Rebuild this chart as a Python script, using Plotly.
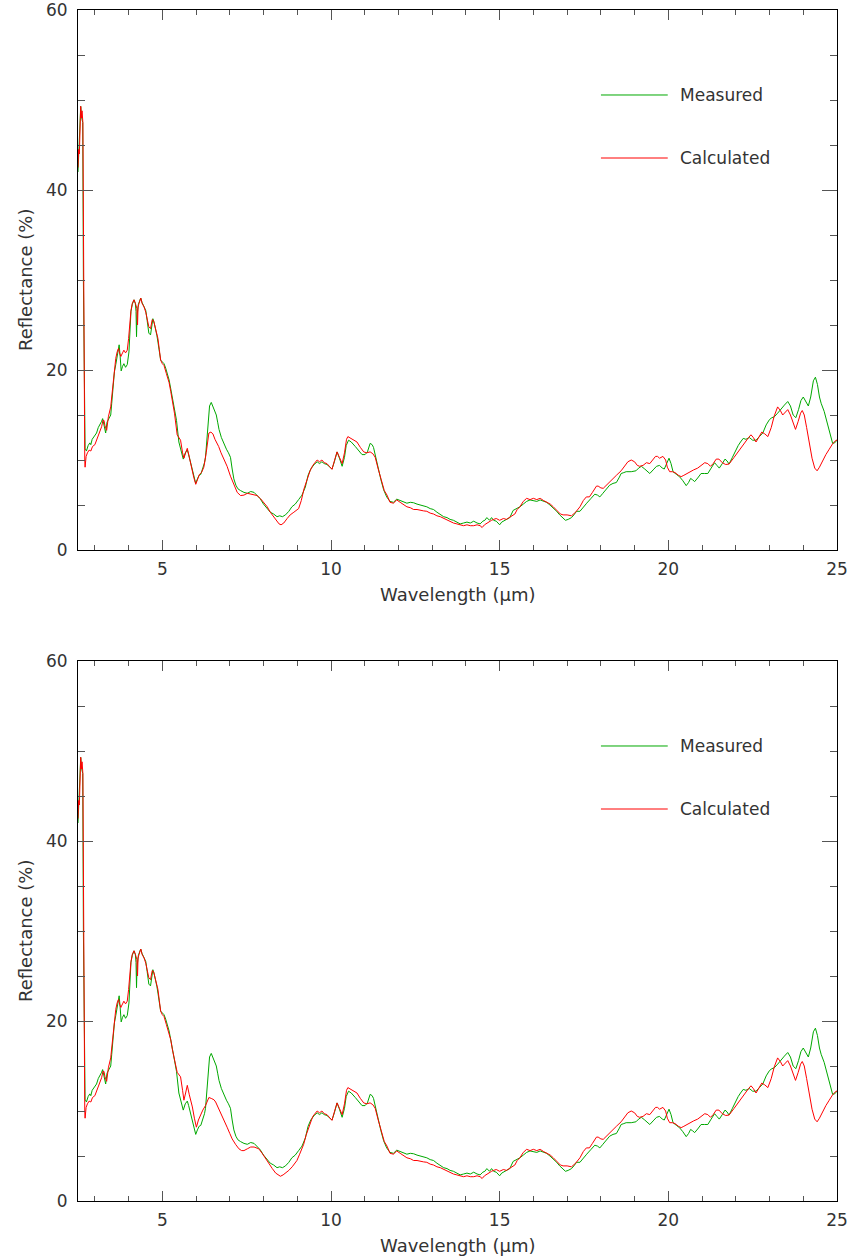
import plotly.graph_objects as go

# ---------------- data ----------------
wl_measured = [
    2.50, 2.53, 2.56, 2.58, 2.61, 2.64, 2.66, 2.69, 2.71, 2.75,
    2.80, 2.85, 2.88, 2.92, 2.96, 3.00, 3.05, 3.10, 3.15, 3.20,
    3.23, 3.27, 3.32, 3.36, 3.42, 3.47, 3.50, 3.54, 3.58, 3.62,
    3.67, 3.72, 3.75, 3.78, 3.82, 3.86, 3.91, 3.96, 4.01, 4.04,
    4.07, 4.11, 4.16, 4.20, 4.22, 4.235, 4.25, 4.29, 4.33, 4.36,
    4.40, 4.46, 4.51, 4.55, 4.60, 4.65, 4.69, 4.72, 4.76, 4.80,
    4.84, 4.87, 4.91, 4.95, 5.00, 5.05, 5.10, 5.15, 5.20, 5.25,
    5.30, 5.36, 5.42, 5.49, 5.55, 5.62, 5.68, 5.74, 5.78, 5.83,
    5.88, 5.93, 5.99, 6.04, 6.09, 6.14, 6.20, 6.25, 6.28, 6.32,
    6.36, 6.40, 6.45, 6.50, 6.55, 6.60, 6.64, 6.68, 6.75, 6.83,
    6.90, 6.96, 7.02, 7.07, 7.12, 7.18, 7.24, 7.32, 7.42, 7.52,
    7.62, 7.72, 7.81, 7.90, 8.00, 8.10, 8.20, 8.30, 8.40, 8.48,
    8.56, 8.65, 8.75, 8.84, 8.94, 9.04, 9.14, 9.24, 9.32, 9.40,
    9.50, 9.59, 9.66, 9.73, 9.80, 9.88, 9.95, 10.03, 10.10, 10.18,
    10.25, 10.33, 10.40, 10.45, 10.52, 10.60, 10.72, 10.82, 10.92, 11.01,
    11.08, 11.16, 11.22, 11.26, 11.33, 11.41, 11.48, 11.56, 11.65, 11.75,
    11.85, 11.95, 12.05, 12.15, 12.25, 12.35, 12.45, 12.55, 12.65, 12.74,
    12.84, 12.94, 13.04, 13.14, 13.24, 13.34, 13.44, 13.53, 13.63, 13.73,
    13.83, 13.93, 14.03, 14.13, 14.23, 14.33, 14.42, 14.50, 14.56, 14.62,
    14.70, 14.76, 14.82, 14.90, 14.96, 15.00, 15.06, 15.15, 15.22, 15.30,
    15.40, 15.50, 15.60, 15.70, 15.80, 15.90, 16.00, 16.10, 16.20, 16.30,
    16.39, 16.49, 16.59, 16.69, 16.78, 16.88, 16.95, 17.03, 17.13, 17.20,
    17.28, 17.38, 17.48, 17.58, 17.70, 17.82, 17.90, 17.97, 18.06, 18.16,
    18.26, 18.36, 18.46, 18.55, 18.60, 18.68, 18.75, 18.90, 19.04, 19.12,
    19.20, 19.30, 19.45, 19.55, 19.65, 19.74, 19.82, 19.88, 19.95, 20.02,
    20.08, 20.14, 20.24, 20.33, 20.43, 20.53, 20.60, 20.66, 20.72, 20.78,
    20.87, 20.97, 21.07, 21.17, 21.27, 21.37, 21.44, 21.51, 21.60, 21.68,
    21.74, 21.80, 21.90, 22.00, 22.07, 22.14, 22.22, 22.30, 22.40, 22.50,
    22.60, 22.70, 22.80, 22.90, 23.00, 23.07, 23.14, 23.24, 23.34, 23.44,
    23.54, 23.62, 23.70, 23.78, 23.86, 23.93, 24.00, 24.08, 24.15, 24.22,
    24.30, 24.36, 24.42, 24.48, 24.53, 24.62, 24.70, 24.78, 24.87, 24.93,
    25.00,
]
refl_measured = [
    42.0, 45.0, 48.5, 49.3, 48.0, 47.5, 30.0, 14.0, 11.3, 11.0,
    11.6, 11.9, 11.7, 12.3, 12.5, 12.7, 13.0, 13.6, 13.9, 14.3,
    14.6, 13.8, 13.0, 14.2, 14.6, 15.0, 16.3, 18.5, 19.8, 20.6,
    22.0, 22.8, 21.5, 19.9, 20.4, 20.7, 20.3, 20.6, 22.0, 24.5,
    26.5, 27.3, 27.8, 27.4, 26.5, 23.7, 26.0, 27.3, 27.6, 28.0,
    27.5, 27.0, 26.6, 25.5, 24.1, 23.9, 25.0, 25.7, 25.2, 24.6,
    23.8, 23.1, 22.0, 21.1, 20.9, 20.7, 20.2, 19.6, 18.9, 17.9,
    16.8, 15.6, 14.4, 12.0, 11.0, 10.1, 10.8, 11.1, 10.6, 9.9,
    9.0, 8.2, 7.4, 7.9, 8.3, 8.4, 9.0, 9.7, 10.3, 12.5,
    15.0, 16.0, 16.4, 16.0, 15.5, 15.0, 14.2, 13.4, 12.5, 11.7,
    11.2, 10.8, 10.3, 9.0, 7.9, 7.2, 6.8, 6.6, 6.4, 6.3,
    6.5, 6.4, 6.1, 5.7, 5.1, 4.6, 4.2, 4.0, 3.7, 3.8,
    3.7, 3.9, 4.3, 4.8, 5.1, 5.6, 6.1, 7.0, 8.3, 9.0,
    9.5, 9.8, 9.6, 9.8, 9.6, 9.5, 9.3, 9.0, 9.8, 10.9,
    10.2, 9.3, 10.3, 11.6, 12.2, 12.0, 11.5, 11.0, 10.6, 10.6,
    10.9, 11.85, 11.7, 11.4, 10.2, 8.9, 7.8, 6.7, 5.9, 5.4,
    5.3, 5.65, 5.5, 5.4, 5.2, 5.3, 5.25, 5.1, 5.0, 4.9,
    4.8, 4.6, 4.5, 4.2, 3.9, 3.7, 3.6, 3.4, 3.3, 3.1,
    2.9, 3.0, 3.1, 3.0, 3.2, 3.0, 2.9, 3.2, 3.3, 3.6,
    3.3, 3.6, 3.3, 3.2, 3.0, 2.8, 3.1, 3.3, 3.4, 3.6,
    4.4, 4.6, 4.8, 5.1, 5.4, 5.56, 5.5, 5.4, 5.56, 5.4,
    5.3, 5.0, 4.7, 4.3, 3.9, 3.5, 3.3, 3.4, 3.6, 3.9,
    4.3, 4.3, 4.8, 5.2, 5.7, 6.2, 6.1, 5.9, 6.3, 6.8,
    7.2, 7.4, 7.5, 8.1, 8.5, 8.6, 8.7, 8.7, 8.8, 9.1,
    9.3, 9.0, 8.5, 8.9, 9.3, 9.4, 9.1, 9.0, 9.6, 10.2,
    9.6, 8.7, 8.4, 8.15, 7.7, 7.15, 7.5, 7.95, 7.8, 7.6,
    8.0, 8.5, 8.5, 8.5, 9.1, 9.7, 9.4, 9.1, 9.6, 10.1,
    9.9, 9.55, 10.3, 11.1, 11.6, 12.0, 12.4, 12.3, 12.5, 12.2,
    12.2, 12.6, 13.0, 13.9, 14.5, 14.7, 14.8, 15.2, 15.7, 16.1,
    16.5, 16.0, 15.0, 14.7, 15.6, 16.6, 17.0, 16.5, 16.0, 17.0,
    18.8, 19.2, 18.4, 17.0, 16.3, 15.4, 14.3, 13.0, 11.85, 11.9,
    12.2,
]

# calculated spectrum, upper panel
wl_calc_top = [
    2.50, 2.52, 2.54, 2.56, 2.58, 2.60, 2.62, 2.645, 2.67, 2.70,
    2.71, 2.74, 2.78, 2.83, 2.88, 2.93, 3.00, 3.05, 3.10, 3.15,
    3.20, 3.24, 3.27, 3.30, 3.35, 3.40, 3.44, 3.47, 3.50, 3.55,
    3.62, 3.66, 3.70, 3.74, 3.77, 3.82, 3.86, 3.91, 3.96, 4.00,
    4.04, 4.07, 4.11, 4.16, 4.21, 4.245, 4.265, 4.28, 4.31, 4.36,
    4.40, 4.46, 4.51, 4.56, 4.60, 4.65, 4.70, 4.74, 4.80, 4.87,
    4.91, 4.95, 5.00, 5.05, 5.12, 5.20, 5.25, 5.30, 5.36, 5.44,
    5.50, 5.54, 5.60, 5.64, 5.70, 5.74, 5.80, 5.86, 5.93, 5.99,
    6.05, 6.10, 6.16, 6.23, 6.30, 6.34, 6.38, 6.44, 6.50, 6.56,
    6.62, 6.67, 6.74, 6.82, 6.92, 7.02, 7.12, 7.22, 7.32, 7.42,
    7.52, 7.62, 7.72, 7.81, 7.91, 8.01, 8.11, 8.20, 8.30, 8.40,
    8.46, 8.52, 8.60, 8.70, 8.79, 8.90, 9.04, 9.12, 9.20, 9.29,
    9.38, 9.46, 9.59, 9.66, 9.73, 9.80, 9.88, 9.95, 10.03, 10.10,
    10.18, 10.25, 10.33, 10.40, 10.46, 10.50, 10.58, 10.68, 10.77, 10.87,
    10.97, 11.06, 11.16, 11.24, 11.31, 11.40, 11.51, 11.58, 11.66, 11.75,
    11.85, 11.95, 12.05, 12.15, 12.25, 12.35, 12.45, 12.55, 12.65, 12.74,
    12.84, 12.94, 13.04, 13.14, 13.24, 13.34, 13.44, 13.53, 13.63, 13.73,
    13.83, 13.93, 14.03, 14.13, 14.23, 14.33, 14.42, 14.48, 14.55, 14.62,
    14.70, 14.76, 14.82, 14.90, 15.00, 15.11, 15.20, 15.28, 15.35, 15.45,
    15.52, 15.60, 15.70, 15.80, 15.90, 16.00, 16.10, 16.20, 16.30, 16.40,
    16.50, 16.59, 16.70, 16.80, 16.88, 17.00, 17.13, 17.25, 17.38, 17.48,
    17.57, 17.66, 17.75, 17.87, 17.92, 18.00, 18.07, 18.16, 18.26, 18.36,
    18.46, 18.60, 18.70, 18.80, 18.90, 19.00, 19.08, 19.15, 19.25, 19.35,
    19.45, 19.55, 19.62, 19.68, 19.74, 19.84, 19.92, 19.97, 20.04, 20.12,
    20.20, 20.30, 20.38, 20.46, 20.55, 20.63, 20.75, 20.87, 20.98, 21.08,
    21.17, 21.25, 21.33, 21.42, 21.50, 21.60, 21.70, 21.80, 21.95, 22.10,
    22.20, 22.30, 22.38, 22.45, 22.52, 22.60, 22.68, 22.77, 22.86, 22.95,
    23.05, 23.14, 23.24, 23.32, 23.39, 23.46, 23.54, 23.62, 23.70, 23.77,
    23.85, 23.92, 23.97, 24.03, 24.10, 24.18, 24.26, 24.34, 24.41, 24.48,
    24.57, 24.67, 24.77, 24.87, 24.97, 25.00,
]
refl_calc_top = [
    42.5, 44.5, 44.0, 47.5, 49.3, 48.0, 48.8, 47.5, 25.0, 10.0,
    9.2, 10.4, 10.8, 11.1, 11.0, 11.5, 11.7, 12.2, 12.8, 13.4,
    13.7, 14.4, 14.4, 13.8, 13.3, 14.8, 15.3, 15.9, 17.0, 19.0,
    21.3, 22.0, 22.4, 21.8, 21.5, 21.9, 22.2, 21.9, 22.2, 23.5,
    25.3, 26.6, 27.4, 27.8, 27.3, 26.85, 25.0, 27.0, 27.4, 28.0,
    27.4, 27.0, 26.4, 25.4, 24.8, 24.6, 25.6, 25.5, 24.4, 23.5,
    22.3, 21.1, 20.7, 20.5, 19.6, 18.6, 17.6, 16.5, 15.2, 12.8,
    12.4, 12.2, 10.8, 10.2, 10.9, 11.3, 10.3, 9.2, 8.1, 7.3,
    8.0, 8.4, 8.6, 9.2, 10.8, 12.2, 13.0, 13.1, 12.9, 12.3,
    11.9, 11.5, 10.8, 10.1, 9.3, 8.2, 7.2, 6.4, 6.05, 6.1,
    6.3, 6.2, 6.1, 6.05, 5.7, 5.2, 4.8, 4.2, 3.7, 3.2,
    2.9, 2.8, 3.0, 3.5, 3.9, 4.2, 4.6, 5.5, 6.8, 7.8,
    8.8, 9.4, 10.0, 9.8, 10.0, 9.7, 9.6, 9.3, 8.96, 9.9,
    10.9, 10.3, 9.6, 10.8, 12.3, 12.6, 12.4, 12.2, 12.0, 11.4,
    10.9, 10.8, 10.9, 10.7, 10.3, 9.0, 7.4, 6.6, 6.1, 5.3,
    5.2, 5.56, 5.3, 5.0, 4.8, 4.7, 4.5, 4.5, 4.4, 4.35,
    4.3, 4.1, 4.0, 3.8, 3.7, 3.5, 3.3, 3.2, 3.0, 2.9,
    2.8, 2.7, 2.8, 2.7, 2.7, 2.8, 2.7, 2.5, 2.8, 3.0,
    3.2, 3.3, 3.4, 3.5, 3.3, 3.5, 3.4, 3.6, 3.7, 4.0,
    4.5, 4.8, 5.4, 5.74, 5.6, 5.74, 5.6, 5.74, 5.5, 5.3,
    5.1, 4.8, 4.4, 4.0, 3.9, 3.9, 3.8, 4.2, 4.8, 5.5,
    5.9, 5.9, 6.4, 7.1, 7.1, 6.9, 6.85, 7.2, 7.6, 7.9,
    8.3, 8.8, 9.3, 9.8, 10.0, 9.8, 9.4, 9.3, 9.4, 9.7,
    9.6, 10.0, 10.4, 10.4, 10.2, 10.4, 10.0, 9.2, 8.7, 8.7,
    8.6, 8.3, 8.15, 8.3, 8.5, 8.7, 8.9, 9.1, 9.4, 9.7,
    9.6, 9.3, 9.6, 10.1, 10.1, 9.7, 9.5, 9.55, 10.3, 11.1,
    11.6, 12.1, 12.5, 12.8, 12.5, 12.0, 12.6, 13.1, 12.9, 12.6,
    13.6, 14.9, 15.9, 15.5, 15.0, 15.3, 15.6, 15.0, 14.0, 13.4,
    14.3, 15.2, 15.5, 15.0, 13.6, 11.85, 10.2, 9.1, 8.8, 9.2,
    9.9, 10.6, 11.2, 11.8, 12.2, 12.2,
]

# calculated spectrum, lower panel: differs from the upper one between 5.2 and 9.4 um
wl_calc_bottom_part = [
    5.20, 5.25, 5.30, 5.36, 5.44, 5.50, 5.54, 5.60, 5.64, 5.69,
    5.74, 5.80, 5.89, 5.95, 6.01, 6.07, 6.14, 6.20, 6.28, 6.34,
    6.38, 6.45, 6.53, 6.58, 6.63, 6.70, 6.78, 6.85, 6.92, 7.00,
    7.07, 7.17, 7.27, 7.35, 7.42, 7.52, 7.62, 7.72, 7.80, 7.86,
    7.96, 8.06, 8.16, 8.26, 8.36, 8.44, 8.50, 8.58, 8.66, 8.75,
    8.85, 8.93, 8.99, 9.07, 9.13, 9.19, 9.26, 9.32, 9.39,
]
refl_calc_bottom_part = [
    18.4, 17.9, 16.8, 15.6, 14.3, 14.0, 13.8, 12.3, 11.2, 12.0,
    12.85, 11.8, 10.45, 9.2, 8.2, 9.0, 9.7, 10.1, 10.6, 11.1,
    11.5, 11.4, 11.25, 11.0, 10.6, 10.1, 9.5, 8.9, 8.2, 7.5,
    6.9, 6.3, 5.8, 5.6, 5.6, 5.8, 6.0, 6.0, 5.9, 5.8,
    5.3, 4.7, 4.1, 3.6, 3.1, 2.9, 2.75, 2.9, 3.1, 3.4,
    3.8, 4.2, 4.5, 5.2, 5.8, 6.3, 7.3, 8.0, 8.7,
]

x_tick_values = [5, 10, 15, 20, 25]
y_tick_values = [0, 20, 40, 60]
series_names = ["Measured", "Calculated"]
series_colors = ["#00a800", "#ff0000"]

# build the lower-panel calculated spectrum from the upper one + its differing part
wl_calc_bottom = ([w for w in wl_calc_top if w < 5.16] + wl_calc_bottom_part
                  + [w for w in wl_calc_top if w > 9.42])
refl_calc_bottom = ([r for w, r in zip(wl_calc_top, refl_calc_top) if w < 5.16]
                    + refl_calc_bottom_part
                    + [r for w, r in zip(wl_calc_top, refl_calc_top) if w > 9.42])

# ---------------- figure ----------------
FONT = "DejaVu Sans"
TXT = "#333333"
TICK = "#555555"

fig = go.Figure()
panels = [("x", "y", wl_calc_top, refl_calc_top), ("x2", "y2", wl_calc_bottom, refl_calc_bottom)]
for xa, ya, wc, rc in panels:
    fig.add_trace(go.Scatter(x=wl_measured, y=refl_measured, mode="lines", name=series_names[0],
                             line=dict(color=series_colors[0], width=1), xaxis=xa, yaxis=ya,
                             showlegend=False))
    fig.add_trace(go.Scatter(x=wc, y=rc, mode="lines", name=series_names[1],
                             line=dict(color=series_colors[1], width=1), xaxis=xa, yaxis=ya,
                             showlegend=False))


def xaxis_cfg(anchor):
    return dict(anchor=anchor, range=[2.5, 25], tickmode="array", tickvals=x_tick_values,
                ticktext=[str(v) for v in x_tick_values],
                ticks="inside", ticklen=10, tickwidth=1, tickcolor=TICK,
                minor=dict(ticks="inside", ticklen=5, tickwidth=1, tickcolor=TICK, dtick=1, tick0=0,
                           showgrid=False),
                showline=True, linecolor="black", linewidth=1, mirror="allticks",
                showgrid=False, zeroline=False, ticklabelstandoff=4, automargin=False,
                ticklabeloverflow="allow",
                tickfont=dict(family=FONT, size=17, color=TXT))


def yaxis_cfg(anchor, domain):
    return dict(anchor=anchor, domain=domain, range=[0, 60], tickmode="array", tickvals=y_tick_values,
                ticktext=[str(v) for v in y_tick_values],
                ticks="inside", ticklen=15, tickwidth=1, tickcolor=TICK,
                minor=dict(ticks="inside", ticklen=7, tickwidth=1, tickcolor=TICK, dtick=5, tick0=0,
                           showgrid=False),
                showline=True, linecolor="black", linewidth=1, mirror="allticks",
                showgrid=False, zeroline=False, ticklabelstandoff=6, automargin=False,
                ticklabeloverflow="allow",
                tickfont=dict(family=FONT, size=17, color=TXT))


H_PLOT = 1191.0
top_dom = [651 / H_PLOT, 1.0]
bot_dom = [0.0, 540 / H_PLOT]

annotations = []
shapes = []
for xa, ya, dom in [("x", "y", top_dom), ("x2", "y2", bot_dom)]:
    # axis titles
    annotations.append(dict(text="Wavelength (\u03bcm)", xref=f"{xa} domain", yref=f"{ya} domain",
                            x=0.5, y=0, yshift=-44, xanchor="center", yanchor="middle",
                            showarrow=False, font=dict(family=FONT, size=18, color=TXT)))
    annotations.append(dict(text="Reflectance (%)", xref=f"{xa} domain", yref=f"{ya} domain",
                            x=0, xshift=-53, y=0.5, xanchor="center", yanchor="middle",
                            textangle=-90, showarrow=False,
                            font=dict(family=FONT, size=18, color=TXT)))
    # legend
    for i, yy in enumerate([0.8426, 0.7259]):
        shapes.append(dict(type="line", xref=f"{xa} domain", yref=f"{ya} domain",
                           x0=0.689, x1=0.777, y0=yy, y1=yy,
                           line=dict(color=series_colors[i], width=1)))
        annotations.append(dict(text=series_names[i], xref=f"{xa} domain", yref=f"{ya} domain",
                                x=0.791, y=yy, xanchor="left", yanchor="middle", showarrow=False,
                                font=dict(family=FONT, size=17, color=TXT)))

fig.update_layout(
    width=851, height=1260,
    margin=dict(l=78, r=14, t=10, b=59, autoexpand=False),
    paper_bgcolor="white", plot_bgcolor="white",
    xaxis=xaxis_cfg("y"), yaxis=yaxis_cfg("x", top_dom),
    xaxis2=xaxis_cfg("y2"), yaxis2=yaxis_cfg("x2", bot_dom),
    annotations=annotations, shapes=shapes,
    showlegend=False,
)

fig.write_html("out.html")
